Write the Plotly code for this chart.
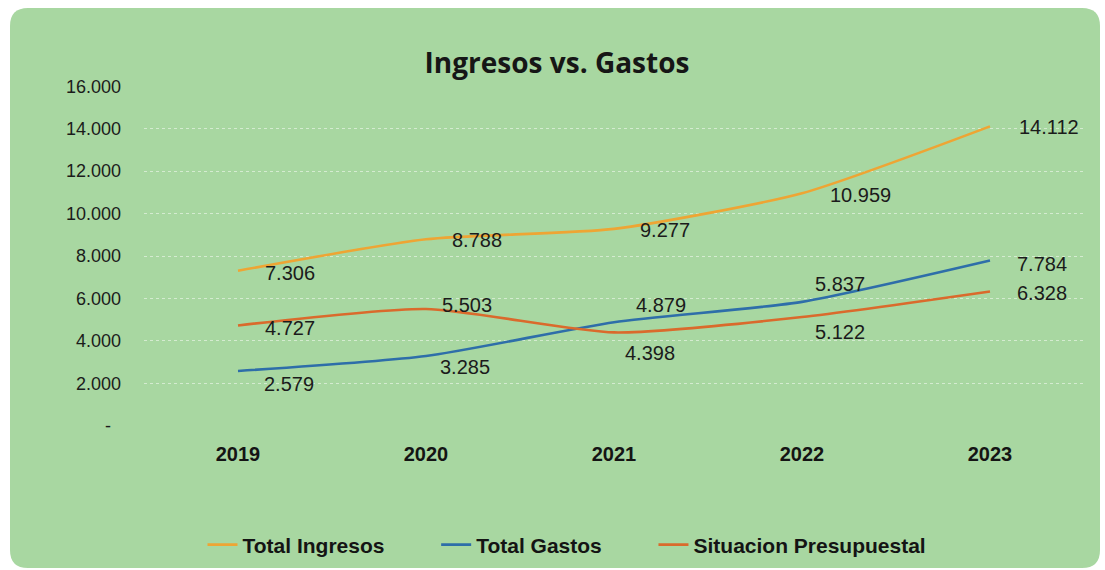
import plotly.graph_objects as go

# ---- data ----
YEARS = ["2019", "2020", "2021", "2022", "2023"]
TOTAL_INGRESOS = [7306, 8788, 9277, 10959, 14112]
TOTAL_GASTOS = [2579, 3285, 4879, 5837, 7784]
SITUACION = [4727, 5503, 4398, 5122, 6328]
SERIES_NAMES = ["Total Ingresos", "Total Gastos", "Situacion Presupuestal"]
Y_TICK_VALUES = [0, 2000, 4000, 6000, 8000, 10000, 12000, 14000, 16000]
Y_TICK_TEXT = ["-\u00a0\u00a0", "2.000", "4.000", "6.000", "8.000", "10.000", "12.000", "14.000", "16.000"]

# ---- styling ----
COLORS = ["#EEA534", "#2E6EA9", "#DA6A2C"]
BG_GREEN = "#A8D7A1"
LEGEND_PAD = ["\u00a0" * 8, "\u00a0" * 8, ""]  # spacing between legend entries
# label offsets (pixels): xshift, yshift (positive = up)
LABEL_SHIFTS = [
    [(25, -2), (24, -1), (24, -1), (26, -2), (27, -1)],
    [(24, -13), (12, -11), (20, 17), (11, 18), (25, -3)],
    [(25, -3), (14, 4), (9, -21), (11, -15), (25, -2)],
]

W, H = 1105, 570
ML, MR, MT, MB = 144, 21, 86, 144

fig = go.Figure()
all_series = [TOTAL_INGRESOS, TOTAL_GASTOS, SITUACION]
for name, vals, col, pad in zip(SERIES_NAMES, all_series, COLORS, LEGEND_PAD):
    fig.add_trace(go.Scatter(
        x=YEARS, y=vals, name=name + pad, mode="lines",
        line=dict(color=col, width=2.6, shape="spline", smoothing=0.6),
        hovertemplate=name + ": %{y:,}<extra></extra>",
    ))

annotations = []
for s, vals in enumerate(all_series):
    for i, v in enumerate(vals):
        xs, ys = LABEL_SHIFTS[s][i]
        annotations.append(dict(
            x=i, y=v, xref="x", yref="y", showarrow=False,  # x = category index of YEARS[i]
            text=f"{v:,}".replace(",", "."),
            xanchor="left", yanchor="middle", xshift=xs, yshift=ys,
            font=dict(family="Liberation Sans, Arial, sans-serif", size=20, color="#1b1b1b"),
        ))

# green rounded background card (paper coords)
pw = W - ML - MR
ph = H - MT - MB
def px_x(p):
    return (p - ML) / pw
def px_y(p):
    return (H - MB - p) / ph
x0, x1, y0, y1, r = 10, 1100, 8, 568, 18
path = (
    f"M {px_x(x0 + r)},{px_y(y0)} L {px_x(x1 - r)},{px_y(y0)} "
    f"Q {px_x(x1)},{px_y(y0)} {px_x(x1)},{px_y(y0 + r)} "
    f"L {px_x(x1)},{px_y(y1 - r)} Q {px_x(x1)},{px_y(y1)} {px_x(x1 - r)},{px_y(y1)} "
    f"L {px_x(x0 + r)},{px_y(y1)} Q {px_x(x0)},{px_y(y1)} {px_x(x0)},{px_y(y1 - r)} "
    f"L {px_x(x0)},{px_y(y0 + r)} Q {px_x(x0)},{px_y(y0)} {px_x(x0 + r)},{px_y(y0)} Z"
)

fig.update_layout(
    width=W, height=H,
    margin=dict(l=ML, r=MR, t=MT, b=MB, autoexpand=False),
    paper_bgcolor="white",
    plot_bgcolor="rgba(0,0,0,0)",
    shapes=[dict(type="path", path=path, xref="paper", yref="paper",
                 fillcolor=BG_GREEN, line=dict(width=0), layer="below")],
    title=dict(text="<b>Ingresos vs. Gastos</b>", x=557 / W, xanchor="center",
               y=1 - 63 / H, yanchor="middle",
               font=dict(family="Open Sans, sans-serif", size=28, color="#161616")),
    xaxis=dict(
        type="category", range=[-0.5, len(YEARS) - 0.5],
        showgrid=False, showline=False, zeroline=False,
        ticks="", ticklabelstandoff=14,
        tickfont=dict(family="Liberation Sans, Arial, sans-serif", size=20, color="#141414", weight="bold"),
    ),
    yaxis=dict(
        range=[-15, 16015], tickvals=Y_TICK_VALUES, ticktext=Y_TICK_TEXT,
        showgrid=True, gridcolor="rgba(255,255,255,0.5)", griddash="dot", gridwidth=1,
        zeroline=False, showline=False, ticks="", ticklabelstandoff=22,
        tickfont=dict(family="Liberation Sans, Arial, sans-serif", size=18, color="#1b1b1b"),
    ),
    legend=dict(
        orientation="h", x=567 / W, xref="container", xanchor="center",
        y=1 - 545 / H, yref="container", yanchor="middle",
        bgcolor="rgba(0,0,0,0)", tracegroupgap=0,
        font=dict(family="Liberation Sans, Arial, sans-serif", size=21, color="#141414", weight="bold"),
    ),
    annotations=annotations,
    showlegend=True,
)

fig.write_html("out.html", config={"displayModeBar": False},
               post_script="document.body.style.margin='0';")
